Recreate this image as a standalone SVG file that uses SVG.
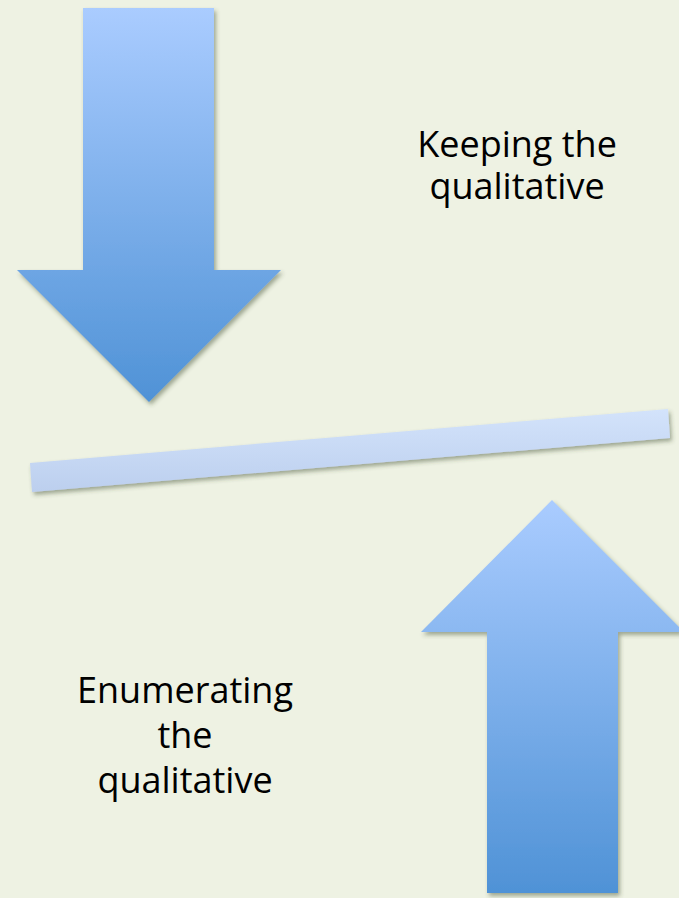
<svg xmlns="http://www.w3.org/2000/svg" width="679" height="898" viewBox="0 0 679 898">
  <style>
    .lbl { font-family: "Open Sans", "Liberation Sans", sans-serif; font-size: 36px; fill: #000; text-anchor: middle; }
  </style>
  <defs>
    <linearGradient id="gDown" x1="0" y1="0" x2="0" y2="1">
      <stop offset="0" stop-color="#aaccff"/>
      <stop offset="1" stop-color="#4f92d6"/>
    </linearGradient>
    <linearGradient id="gUp" x1="0" y1="0" x2="0" y2="1">
      <stop offset="0" stop-color="#aaccff"/>
      <stop offset="1" stop-color="#4f92d6"/>
    </linearGradient>
    <linearGradient id="gBar" x1="0" y1="0" x2="0" y2="1">
      <stop offset="0" stop-color="#d3e3fb"/>
      <stop offset="1" stop-color="#bccfee"/>
    </linearGradient>
    <filter id="sh" x="-10%" y="-10%" width="130%" height="130%">
      <feDropShadow dx="2" dy="3" stdDeviation="2" flood-color="#3d4a2a" flood-opacity="0.45"/>
    </filter>
  </defs>
  <rect width="679" height="898" fill="#eef2e3"/>
  <g id="arrow-down" filter="url(#sh)">
    <polygon points="83,8 214,8 214,270 281,270 149,402 17,270 83,270" fill="url(#gDown)"/>
  </g>
  <g id="bar" filter="url(#sh)">
    <polygon points="30,463 668,409 670,438 32,492" fill="url(#gBar)"/>
  </g>
  <g id="arrow-up" filter="url(#sh)">
    <polygon points="552,500 684,632 618,632 618,893 487,893 487,632 421,632" fill="url(#gUp)"/>
  </g>
  <g id="label-keeping">
    <text class="lbl" x="517" y="157">Keeping the</text>
    <text class="lbl" x="517" y="199">qualitative</text>
  </g>
  <g id="label-enumerating">
    <text class="lbl" x="185" y="703">Enumerating</text>
    <text class="lbl" x="185" y="748">the</text>
    <text class="lbl" x="185" y="793">qualitative</text>
  </g>
</svg>
